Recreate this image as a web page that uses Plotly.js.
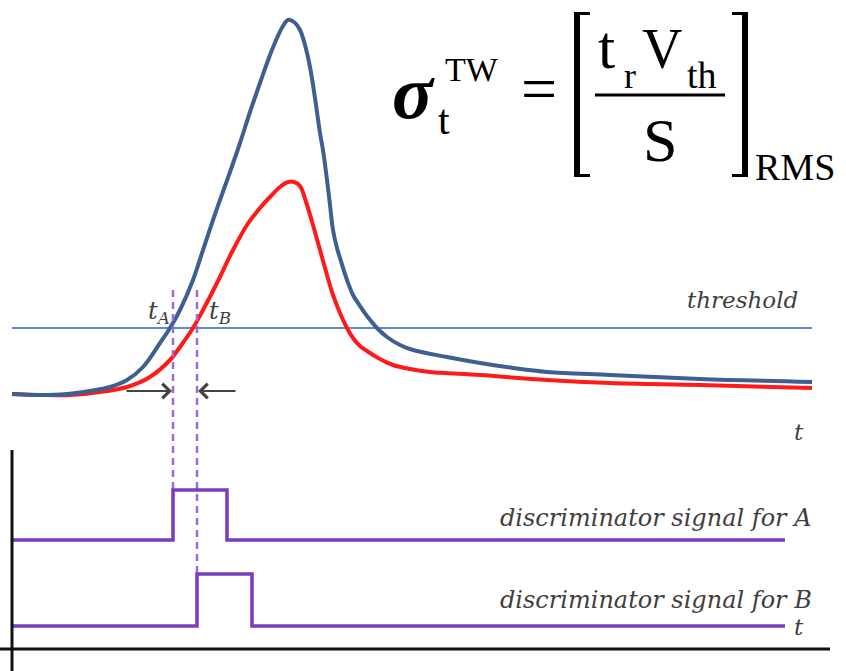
<!DOCTYPE html>
<html>
<head>
<meta charset="utf-8">
<script src="https://cdn.plot.ly/plotly-3.0.1.min.js"></script>
<style>html,body{margin:0;padding:0;background:#fff;}#chart{width:846px;height:671px;}</style>
</head>
<body>
<div id="chart"></div>
<script>
// ---- data (diagram coordinates: x = time, y = screen-down amplitude) ----
const bigX = [12,40,67,90,110,127,143,160,170,180,193,203,213,220,230,240,250,260,270,277,283,288,294,300,305,310,315,320,323,327,330,333,337,340,347,353,360,367,377,387,400,413,447,480,513,547,610,700,812];
const bigY = [394,395,394,391,387,380,367,343,328,310,280,250,220,200,172,143,112,83,55,38,26,20,22,30,45,67,98,133,150,180,205,230,248,258,280,295,306,316,328,337,345,350,357,363,368,372,375,379,382];
const smallX = [12,40,70,100,127,150,170,180,193,203,217,233,247,260,270,280,288,294,300,307,313,320,327,333,340,347,353,360,367,380,393,410,430,480,547,610,700,812];
const smallY = [394,395,395,392,387,377,360,347,328,310,283,250,225,208,197,187,182,182,186,205,225,250,275,295,313,328,338,346,351,359,365,369,372,375,380,383,385,388];
const thresholdX = [12, 812];
const thresholdY = [328, 328];
const tA = 173, tB = 197;
const discAX = [12,173,173,227,227,785];
const discAY = [540,540,490,490,540,540];
const discBX = [12,197,197,252,252,785];
const discBY = [626,626,574,574,626,626];
const labels = {threshold: "threshold", discA: "discriminator signal for A", discB: "discriminator signal for B"};

const traces = [
  {x: thresholdX, y: thresholdY, mode: 'lines', line: {color: '#5b8ad4', width: 2}, hoverinfo: 'skip'},
  {x: smallX, y: smallY, mode: 'lines', line: {color: '#ff1a1a', width: 4, shape: 'spline', smoothing: 1}, hoverinfo: 'skip'},
  {x: bigX, y: bigY, mode: 'lines', line: {color: '#3d5f92', width: 4, shape: 'spline', smoothing: 1}, hoverinfo: 'skip'},
  {x: [tA, tA], y: [290, 490], mode: 'lines', line: {color: '#9b6bd8', width: 2.5, dash: '7px,5px'}, hoverinfo: 'skip'},
  {x: [tB, tB], y: [290, 574], mode: 'lines', line: {color: '#9b6bd8', width: 2.5, dash: '7px,5px'}, hoverinfo: 'skip'},
  {x: discAX, y: discAY, mode: 'lines', line: {color: '#7a3bbf', width: 3.5}, hoverinfo: 'skip'},
  {x: discBX, y: discBY, mode: 'lines', line: {color: '#7a3bbf', width: 3.5}, hoverinfo: 'skip'}
];

const serif = 'Liberation Serif, Times New Roman, serif';
const ital = 'DejaVu Serif, serif';
const gray = '#3f3f3f';
function txt(text, x, y, size, opts) {
  return Object.assign({text: text, x: x, y: y, xref: 'x', yref: 'y', showarrow: false,
    xanchor: 'left', yanchor: 'middle', font: {family: serif, size: size, color: '#000'}}, opts || {});
}
const annotations = [
  txt('<i>' + labels.threshold + '</i>', 800, 300, 23, {xanchor: 'right', font: {family: ital, size: 23, color: gray}}),
  txt('<i>t</i><sub><i>A</i></sub>', 146, 312, 24, {font: {family: ital, size: 24, color: gray}}),
  txt('<i>t</i><sub><i>B</i></sub>', 207, 312, 24, {font: {family: ital, size: 24, color: gray}}),
  txt('<i>t</i>', 792, 432, 23, {font: {family: ital, size: 23, color: gray}}),
  txt('<i>t</i>', 792, 627, 23, {font: {family: ital, size: 23, color: gray}}),
  txt('<i>' + labels.discA + '</i>', 814, 518, 24, {xanchor: 'right', font: {family: ital, size: 24, color: gray}}),
  txt('<i>' + labels.discB + '</i>', 814, 600, 24, {xanchor: 'right', font: {family: ital, size: 24, color: gray}}),
  // formula
  txt('<b><i>σ</i></b>', 390, 92, 76),
  txt('TW', 443, 69, 34),
  txt('t', 436, 120, 42),
  txt('=', 519, 88, 64),
  txt('t', 596, 47, 62),
  txt('r', 622, 76, 36),
  txt('V', 640, 49, 56),
  txt('th', 685, 75, 38),
  txt('S', 660, 140, 62, {xanchor: 'center'}),
  txt('RMS', 753, 167, 38),
  // arrows
  {x: 172, y: 391, ax: 125, ay: 391, xref: 'x', yref: 'y', axref: 'x', ayref: 'y', text: '', showarrow: true,
   arrowhead: 4, arrowsize: 1.3, arrowwidth: 2.2, arrowcolor: '#444'},
  {x: 198, y: 391, ax: 237, ay: 391, xref: 'x', yref: 'y', axref: 'x', ayref: 'y', text: '', showarrow: true,
   arrowhead: 4, arrowsize: 1.3, arrowwidth: 2.2, arrowcolor: '#444'}
];

const shapes = [
  // axes of the discriminator panel
  {type: 'line', x0: 12, x1: 12, y0: 450, y1: 671, line: {color: '#111', width: 3}},
  {type: 'line', x0: 0, x1: 830, y0: 649, y1: 649, line: {color: '#111', width: 3}},
  // fraction bar
  {type: 'line', x0: 595, x1: 725, y0: 95, y1: 95, line: {color: '#000', width: 3}},
  // brackets
  {type: 'line', x0: 577, x1: 577, y0: 12, y1: 177, line: {color: '#000', width: 6}},
  {type: 'line', x0: 574, x1: 590, y0: 13.5, y1: 13.5, line: {color: '#000', width: 3}},
  {type: 'line', x0: 574, x1: 590, y0: 175.5, y1: 175.5, line: {color: '#000', width: 3}},
  {type: 'line', x0: 745, x1: 745, y0: 12, y1: 177, line: {color: '#000', width: 6}},
  {type: 'line', x0: 732, x1: 748, y0: 13.5, y1: 13.5, line: {color: '#000', width: 3}},
  {type: 'line', x0: 732, x1: 748, y0: 175.5, y1: 175.5, line: {color: '#000', width: 3}}
];

const layout = {
  width: 846, height: 671,
  margin: {l: 0, r: 0, t: 0, b: 0, pad: 0},
  paper_bgcolor: '#fff', plot_bgcolor: '#fff',
  showlegend: false,
  xaxis: {range: [0, 846], visible: false, fixedrange: true},
  yaxis: {range: [671, 0], visible: false, fixedrange: true},
  annotations: annotations,
  shapes: shapes
};
Plotly.newPlot('chart', traces, layout, {displayModeBar: false, staticPlot: true});
</script>
</body>
</html>
